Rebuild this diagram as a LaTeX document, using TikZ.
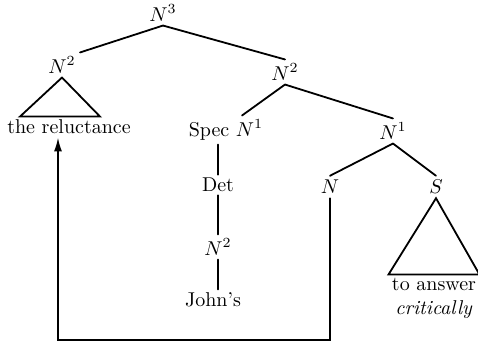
\documentclass[tikz,border=0pt]{standalone}
\usetikzlibrary{arrows.meta,calc}

\begin{document}
\begin{tikzpicture}[
    x=0.5pt, y=-0.5pt,
    every node/.style={font=\normalsize, inner sep=1.5pt},
    branch/.style={line width=0.9pt, line cap=round},
    cat/.style={inner sep=2pt},
]
\useasboundingbox (0,0) rectangle (478,348);

% Top of the tree
\node[cat] (n3) at (163,13) {$N^3$};
\node[cat] (n2a) at (62,65) {$N^2$};
\node[cat] (n2b) at (285,72) {$N^2$};
\draw[branch] (n3.south) -- (n2a.north east);
\draw[branch] (n3.south) -- (n2b.north);

% Left subtree
\node (rel) at (69,127) {the reluctance};
\draw[branch] (n2a.south) -- ($(rel.north)+(-49,0)$) -- ($(rel.north)+(31,0)$) -- cycle;

% Specifier
\node[cat] (specn) at (226,130) {Spec $N^1$};
\node[cat] (n1b) at (393,131) {$N^1$};
\draw[branch] (n2b.south) -- ($(specn.north)+(16,0)$);
\draw[branch] (n2b.south) -- (n1b.north);

\node (det) at (218,185) {Det};
\node[cat] (n2c) at (218,247) {$N^2$};
\node (johns) at (213,300) {John's};
\draw[branch] (specn.south -| det.north) -- (det.north);
\draw[branch] (det.south) -- (n2c.north);
\draw[branch] (n2c.south) -- (johns.north -| n2c.south);

% Right subtree
\node[cat] (nn) at (330,187) {$N$};
\node[cat] (s) at (436,187) {$S$};
\draw[branch] (n1b.south) -- (nn.north);
\draw[branch] (n1b.south) -- (s.north);

\node[align=center] (answer) at (434,298) {to answer\\\textit{critically}};
\draw[branch] (s.south) -- (answer.north west) -- (answer.north east) -- cycle;

% Movement arrow
\coordinate (bend) at (58,340);
\draw[branch, -{Latex[length=7pt,width=4pt]}] (nn.south) |- (bend) -- (bend |- rel.south);

\end{tikzpicture}
\end{document}
